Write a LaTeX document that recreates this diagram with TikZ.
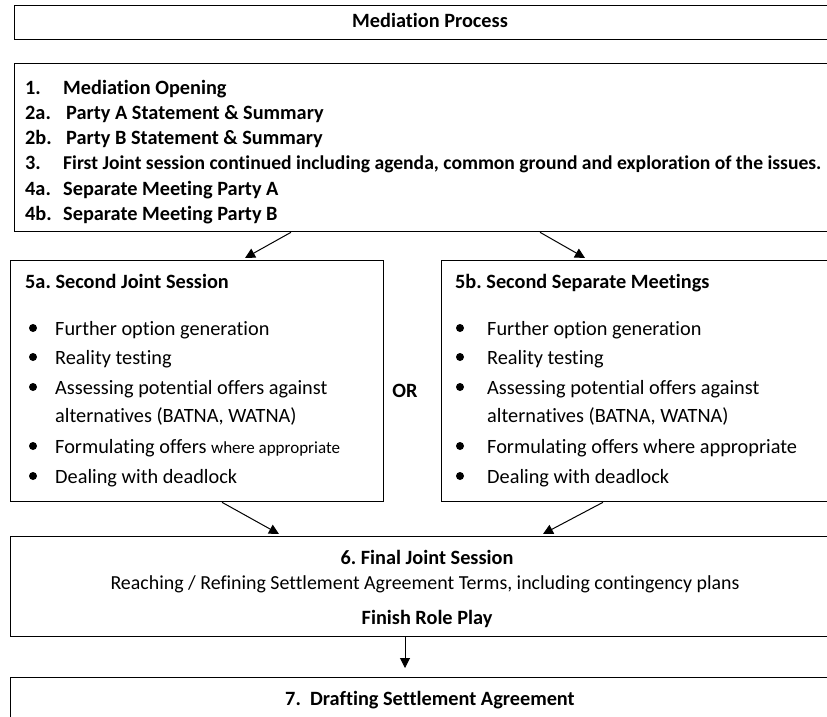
\documentclass[tikz,border=0pt]{standalone}
\usepackage{fontspec}
\setmainfont{Carlito}[Ligatures=NoCommon]
\usetikzlibrary{arrows.meta,positioning}

\tikzset{
  box/.style={draw, line width=1.3pt, inner sep=0pt, anchor=north west},
  txt/.style={anchor=base west, inner sep=0pt, font=\fontsize{20.3}{24}\selectfont},
  btxt/.style={txt, font=\fontsize{20.3}{24}\selectfont\bfseries},
  ctxt/.style={anchor=base, inner sep=0pt, font=\fontsize{20.3}{24}\selectfont},
  bctxt/.style={ctxt, font=\fontsize{20.3}{24}\selectfont\bfseries},
  dot/.style={circle, fill, inner sep=0pt, minimum size=8pt},
  arr/.style={-{Triangle[length=10pt,width=10pt]}, line width=1pt},
}
\frenchspacing

\begin{document}
\begin{tikzpicture}[x=1pt,y=-1pt]
\useasboundingbox (0,0) rectangle (827,717);
% boxes
\node[box, minimum width=832pt, minimum height=34pt] (title) at (14,5) {};
\node[box, minimum width=832pt, minimum height=168pt] (open) at (14,63) {};
\node[box, minimum width=373pt, minimum height=241pt] (sja) at (10,260) {};
\node[box, minimum width=410pt, minimum height=241pt] (ssm) at (441,260) {};
\node[box, minimum width=840pt, minimum height=100pt] (fin) at (10,536) {};
\node[box, minimum width=840pt, minimum height=80pt] (draft) at (10,677) {};
% texts
\node[bctxt] (ttl) at (430,28) {Mediation Process};
\foreach \n/\t/\tx/\y in {1./Mediation Opening/63/94,
    2a./Party A Statement \& Summary/66/119,
    2b./Party B Statement \& Summary/66/144,
    4a./Separate Meeting Party A/63/195,
    4b./Separate Meeting Party B/63/220}{
  \node[btxt] at (25,\y) {\n};
  \node[btxt] at (\tx,\y) {\t};
}
\node[btxt] at (25,169) {3.};
\node[btxt, font=\fontsize{19.6}{24}\selectfont\bfseries] (issues) at (63,169)
  {First Joint session continued including agenda, common ground and exploration of the issues.};
\node[btxt] (sjat) at (25,288) {5a. Second Joint Session};
\node[btxt] (ssmt) at (455,288) {5b. Second Separate Meetings};
\foreach \bx/\tx in {33/55, 460/487}{
  \foreach \y in {328,357,387,446,476}
    \node[dot] at (\bx,\y) {};
  \node[txt] at (\tx,335) {Further option generation};
  \node[txt] at (\tx,364) {Reality testing};
  \node[txt] at (\tx,394) {Assessing potential offers against};
  \node[txt] at (\tx,422) {alternatives (BATNA, WATNA)};
  \node[txt] at (\tx,483) {Dealing with deadlock};
}
\node[txt] at (55,453) {Formulating offers {\fontsize{17}{20}\selectfont where appropriate}};
\node[txt] at (487,453) {Formulating offers where appropriate};
\node[bctxt] (or) at (405,397) {OR};
\node[bctxt] (fint) at (427,564) {6. Final Joint Session};
\node[ctxt, font=\fontsize{19.9}{24}\selectfont] (reach) at (425,589) {Reaching / Refining Settlement Agreement Terms, including contingency plans};
\node[bctxt] (role) at (427,624) {Finish Role Play};
\node[bctxt] (dt) at (430,705) {7.\ \ Drafting Settlement Agreement};
% arrows
\draw[arr] ([xshift=277pt]open.south west) -- ([xshift=235pt,yshift=2pt]sja.north west);
\draw[arr] ([xshift=526pt]open.south west) -- ([xshift=144pt,yshift=2pt]ssm.north west);
\draw[arr] ([xshift=212pt]sja.south west) -- ([xshift=269pt,yshift=2pt]fin.north west);
\draw[arr] ([xshift=162pt]ssm.south west) -- ([xshift=533pt,yshift=2pt]fin.north west);
\draw[arr] ([xshift=395pt]fin.south west) -- ([xshift=395pt,yshift=9pt]draft.north west);
\end{tikzpicture}
\end{document}
